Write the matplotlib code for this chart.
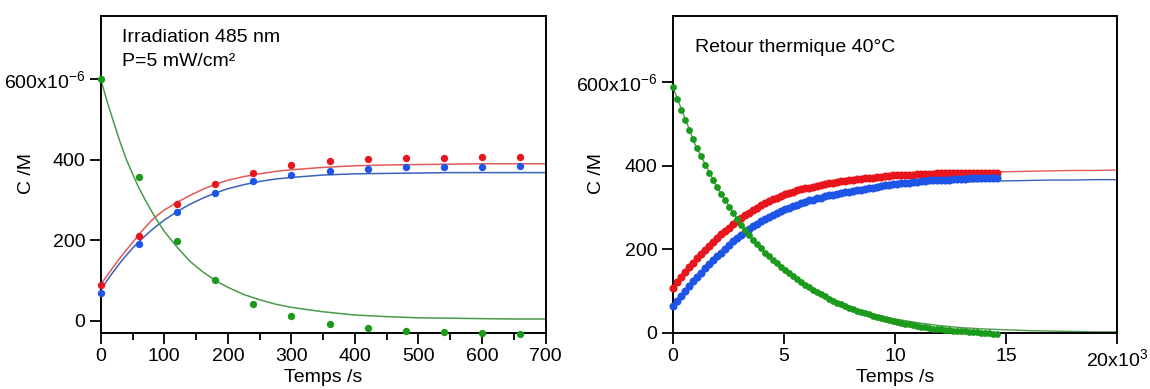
import numpy as np
import matplotlib
matplotlib.use("Agg")
import matplotlib.pyplot as plt
from matplotlib.ticker import MultipleLocator

plt.rcParams['font.family'] = ['Liberation Sans', 'DejaVu Sans']
plt.rcParams['mathtext.fontset'] = 'custom'
plt.rcParams['mathtext.rm'] = 'Liberation Sans'
plt.rcParams['mathtext.it'] = 'Liberation Sans:italic'
plt.rcParams['mathtext.default'] = 'regular'

# ---------------- Left panel: irradiation 485 nm (values in 1e-6 M) ----------------
t_irr = [0, 60, 120, 180, 240, 300, 360, 420, 480, 540, 600, 660]
red_irr = [89, 210, 291, 339, 368, 387, 397, 401, 404, 405, 407, 407]
blue_irr = [68, 191, 270, 318, 347, 363, 373, 378, 381, 383, 383, 384]
green_irr = [600, 357, 198, 100, 42, 11, -8, -19, -25, -28, -31, -32]

t_irr_fit = [0, 10, 20, 30, 40, 50, 60, 70, 80, 90, 100, 120, 140, 160, 180, 200,
             225, 250, 275, 300, 350, 400, 450, 500, 550, 600, 650, 700]
red_irr_fit = [90, 112, 134, 155, 175, 194, 214, 232, 249, 263, 275, 294, 311, 326,
               339, 349, 358, 365, 371, 375, 381, 385, 387, 388, 389, 390, 390, 390]
blue_irr_fit = [76, 100, 122, 143, 162, 180, 196, 211, 225, 238, 250, 271, 289, 304,
                317, 328, 338, 346, 352, 356, 362, 365, 366, 367, 368, 368, 368, 368]
green_irr_fit = [600, 545, 495, 446, 402, 365, 330, 300, 272, 246, 222, 183, 148, 122,
                 100, 83, 65, 52, 41, 33, 22, 14, 10, 7, 6, 5, 4, 4]

# ---------------- Right panel: thermal return 40 °C ----------------
t_th = np.arange(0, 14581, 180)
red_th = [108, 121, 133, 145, 157, 168, 179, 189, 199, 209, 218, 227, 236, 244, 252, 260,
          268, 275, 282, 288, 294, 300, 305, 310, 315, 320, 324, 328, 332, 335, 338, 341,
          344, 346, 348, 350, 352, 354, 356, 358, 360, 361, 363, 364, 366, 367, 368, 369,
          370, 371, 372, 373, 374, 375, 376, 377, 377, 378, 378, 379, 379, 380, 380, 381,
          381, 381, 382, 382, 382, 382, 382, 383, 383, 383, 382, 383, 383, 383, 382, 383,
          383, 383]
blue_th = [64, 77, 89, 101, 112, 123, 134, 144, 154, 164, 174, 183, 192, 201, 210, 219,
           228, 235, 242, 249, 255, 261, 267, 273, 278, 283, 287, 292, 296, 300, 304, 307,
           311, 314, 317, 319, 322, 324, 327, 329, 331, 333, 335, 337, 338, 340, 341, 343,
           345, 346, 348, 350, 351, 353, 354, 356, 357, 358, 359, 360, 361, 362, 363, 364,
           365, 365, 366, 366, 367, 367, 368, 368, 369, 369, 370, 370, 370, 371, 371, 371,
           371, 372]
green_th = [590, 560, 535, 511, 487, 464, 443, 423, 403, 384, 366, 349, 333, 317, 301, 286,
            272, 258, 246, 234, 223, 212, 202, 192, 183, 174, 166, 158, 150, 142, 135, 128,
            121, 115, 109, 103, 97, 92, 87, 82, 77, 72, 68, 64, 60, 56, 53, 50,
            47, 44, 41, 38, 35, 33, 30, 28, 26, 24, 22, 20, 18, 16, 14, 13,
            11, 10, 9, 8, 7, 6, 5, 4, 4, 3, 2, 1, 1, 0, -1, -1,
            -2, -2]

t_th_fit = np.arange(0, 20001, 1000)
red_th_fit = [108, 172, 228, 272, 306, 331, 348, 360, 368, 374, 378, 381, 383, 384, 385,
              386, 387, 388, 389, 389, 390]
blue_th_fit = [64, 129, 184, 230, 266, 293, 313, 328, 339, 347, 352, 356, 359, 361, 363,
               364, 365, 366, 366, 367, 367]
green_th_fit = [590, 452, 348, 264, 200, 151, 114, 85, 62, 45, 33, 24, 17, 12, 9,
                7, 5, 4, 3, 2, 2]

y_ticks = [0, 200, 400, 600]
y_ticklabels = ['0', '200', '400', '600x10$^{-6}$']
x_ticks_irr = [0, 100, 200, 300, 400, 500, 600, 700]
x_ticks_th = [0, 5000, 10000, 15000, 20000]
x_ticklabels_th = ['0', '5', '10', '15', '20x10$^{3}$']

RED = '#e8161c'
BLUE = '#1f55e6'
GREEN = '#1c9a1c'
RED_L = '#e05a5a'
BLUE_L = '#3a62b8'
GREEN_L = '#4a9a4a'

fig = plt.figure(figsize=(11.5, 3.89), dpi=100)
axL = fig.add_axes([0.0876, 0.1447, 0.3868, 0.8149])
axR = fig.add_axes([0.5850, 0.1447, 0.3866, 0.8149])

for ax in (axL, axR):
    for sp in ax.spines.values():
        sp.set_linewidth(1.4)
        sp.set_color('black')
    ax.tick_params(which='major', direction='out', length=8, width=1.3,
                   labelsize=14, pad=3, colors='black')
    ax.tick_params(which='minor', direction='out', length=5, width=1.3)
    ax.set_yticks(y_ticks)
    ax.set_yticklabels(y_ticklabels)

# Left
axL.plot(t_irr_fit, red_irr_fit, color=RED_L, lw=1.1, zorder=2)
axL.plot(t_irr_fit, blue_irr_fit, color=BLUE_L, lw=1.1, zorder=2)
axL.plot(t_irr_fit, green_irr_fit, color=GREEN_L, lw=1.1, zorder=2)
axL.plot(t_irr, red_irr, 'o', color=RED, ms=5.3, mew=0, zorder=3, clip_on=False)
axL.plot(t_irr, blue_irr, 'o', color=BLUE, ms=5.3, mew=0, zorder=3, clip_on=False)
axL.plot(t_irr, green_irr, 'o', color=GREEN, ms=5.3, mew=0, zorder=3, clip_on=False)
axL.set_xlim(0, 700)
axL.set_ylim(-30, 758)
axL.set_xticks(x_ticks_irr)
axL.xaxis.set_minor_locator(MultipleLocator(50))
axL.text(0.048, 0.957, 'Irradiation 485 nm', transform=axL.transAxes, fontsize=14,
         va='top', ha='left')
axL.text(0.048, 0.881, 'P=5 mW/cm²', transform=axL.transAxes, fontsize=14,
         va='top', ha='left')

# Right
axR.plot(t_th_fit, red_th_fit, color=RED_L, lw=1.0, zorder=2)
axR.plot(t_th_fit, blue_th_fit, color=BLUE_L, lw=1.0, zorder=2)
axR.plot(t_th_fit, green_th_fit, color=GREEN_L, lw=1.0, zorder=2)
axR.plot(t_th, red_th, 'o', color=RED, ms=5.8, mew=0, zorder=3, clip_on=False)
axR.plot(t_th, blue_th, 'o', color=BLUE, ms=5.8, mew=0, zorder=3, clip_on=False)
axR.plot(t_th, green_th, 'o', color=GREEN, ms=4.9, mew=0, zorder=3, clip_on=False)
axR.set_xlim(0, 20000)
axR.set_ylim(0, 760)
axR.set_xticks(x_ticks_th)
axR.set_xticklabels(x_ticklabels_th)
axR.text(0.050, 0.925, 'Retour thermique 40°C', transform=axR.transAxes, fontsize=14,
         va='top', ha='left')

# Axis labels
fig.text(27 / 1150, 1 - 174 / 389, 'C /M', rotation=90, fontsize=14, ha='center', va='center')
fig.text(596 / 1150, 1 - 174 / 389, 'C /M', rotation=90, fontsize=14, ha='center', va='center')
fig.text(323 / 1150, 1 - 378 / 389, 'Temps /s', fontsize=14, ha='center', va='center')
fig.text(895 / 1150, 1 - 378 / 389, 'Temps /s', fontsize=14, ha='center', va='center')

fig.savefig('out.png', dpi=100, facecolor='white')
